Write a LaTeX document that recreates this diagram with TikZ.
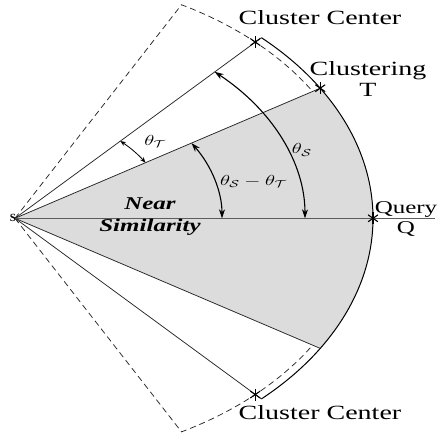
\documentclass[tikz,border=0pt]{standalone}
\usepackage{fontspec}
\setmainfont{Liberation Serif}
\usepackage{amsmath, amssymb}
\usepackage{xcolor}
\usetikzlibrary{calc, positioning, arrows.meta}
\definecolor{sectorgray}{HTML}{DCDCDC}
\definecolor{axisgray}{HTML}{5C5C5C}

\begin{document}
\begin{tikzpicture}[
    x=1pt, y=1pt,
    ray/.style={draw=black!85, line width=0.75pt},
    dashray/.style={ray, dash pattern=on 6pt off 4pt},
    starline/.style={line width=1.1pt, black},
    angarrow/.style={line width=1.1pt, {Stealth[length=9pt,width=6pt]}-{Stealth[length=9pt,width=6pt]}},
    smallarrow/.style={line width=0.8pt, {Stealth[length=5.5pt,width=4.5pt,open]}-{Stealth[length=5.5pt,width=4.5pt,open]}},
    lbl/.style={font=\fontsize{28}{30}\selectfont, yscale=0.72, inner sep=0pt, align=center},
    mathlbl/.style={font=\fontsize{22}{24}\selectfont, yscale=0.7, inner sep=0pt}
  ]
  \useasboundingbox (-15,-217.7) rectangle (428,218.3);

  % points on the sector
  \coordinate (s) at (0,0);
  \coordinate (q) at (0:358pt and 249pt);
  \coordinate (t) at (31.5:358pt and 249pt);
  \coordinate (tb) at (-31.5:358pt and 249pt);
  \coordinate (ccu) at (46.5:349pt and 243pt);
  \coordinate (ccd) at (-46.5:349pt and 243pt);
  \coordinate (eu) at (46.5:358pt and 249pt);
  \coordinate (ed) at (-46.5:358pt and 249pt);
  \coordinate (qend) at (420,0);

  % near similarity region
  \fill[sectorgray] (s) -- (tb) arc[start angle=-31.5, end angle=31.5, x radius=358pt, y radius=249pt] -- cycle;

  % cluster regions
  \draw[dashray] (s) -- (61.5:349pt and 243pt)
    arc[start angle=61.5, end angle=31.5, x radius=349pt, y radius=243pt];
  \draw[dashray] (s) -- (-61.5:349pt and 243pt)
    arc[start angle=-61.5, end angle=-31.5, x radius=349pt, y radius=243pt];

  \draw[ray] (s) -- (eu);
  \draw[ray] (s) -- (ed);
  \draw[ray] (s) -- (t);
  \draw[ray] (s) -- (tb);
  \draw[black, line width=1pt] (ed) arc[start angle=-46.5, end angle=46.5, x radius=358pt, y radius=249pt];
  \draw[axisgray, line width=1.4pt] (s) -- (qend);

  % angles
  \draw[angarrow] (0:290pt and 202pt) arc[start angle=0, end angle=46.5, x radius=290pt, y radius=202pt];
  \draw[angarrow] (0:207pt and 144pt) arc[start angle=0, end angle=31.5, x radius=207pt, y radius=144pt];
  \draw[smallarrow] (31.5:153pt and 106.5pt) arc[start angle=31.5, end angle=46.5, x radius=153pt, y radius=106.5pt];

  % star marks
  \foreach \p in {t, q, ccu, ccd}
    \foreach \a in {90, 35, -35}
      \draw[starline] ($(\p)+(\a:6)$) -- ($(\p)-(\a:6)$);

  % labels
  \node[font=\bfseries\fontsize{11}{11}\selectfont, inner sep=0pt] (slbl) at (-2,0) {S};
  \node[lbl] (cctop) at (305,200.3) {Cluster Center};
  \node[lbl] (ccbot) at (305,-194.7) {Cluster Center};
  \node[lbl] (tlbl) at (353,139.3) {Clustering\\T};
  \node[lbl, font=\fontsize{25}{28}\selectfont] (qlbl) at (391,-0.7) {Query\\Q};
  \node[lbl, font=\bfseries\itshape\fontsize{25}{30}\selectfont] (near) at (135,1.6) {Near\\Similarity};
  \node[mathlbl] (thT) at (140,76.6) {$\theta_{\mathcal{T}}$};
  \node[mathlbl] (thS) at (286.7,68.3) {$\theta_{\mathcal{S}}$};
  \node[mathlbl] (thST) at (238.3,36.6) {$\theta_{\mathcal{S}}-\theta_{\mathcal{T}}$};
\end{tikzpicture}
\end{document}
